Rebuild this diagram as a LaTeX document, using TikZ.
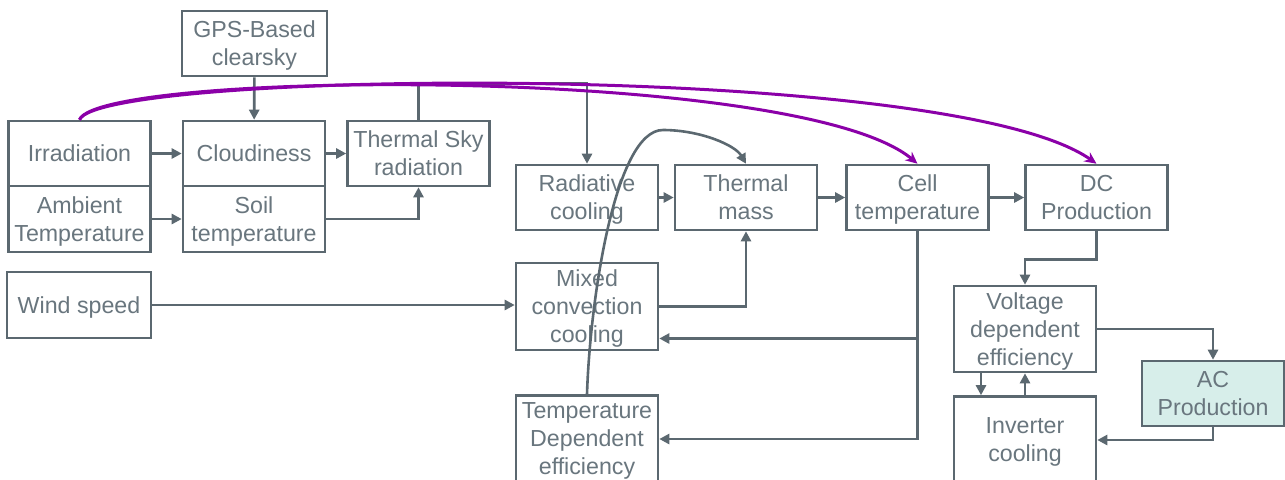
\documentclass[tikz,border=0pt]{standalone}
\usepackage{fontspec}
\setmainfont{Liberation Sans}
\usetikzlibrary{arrows.meta}
\definecolor{slate}{HTML}{5B6870}
\definecolor{ink}{HTML}{69767E}
\definecolor{violet}{HTML}{8B00A8}
\definecolor{mint}{HTML}{D7EEEA}
\begin{document}
\begin{tikzpicture}[x=0.5pt,y=-0.5pt,
  box/.style={draw=slate,line width=1.3pt,text=ink,align=center,inner sep=0pt,
    text depth=0pt,minimum width=71pt,minimum height=32.5pt,
    font=\fontsize{11.6}{14}\selectfont},
  tall/.style={box,minimum height=43.5pt},
  line/.style={draw=slate,line width=1.3pt,-{Triangle[length=5pt,width=5pt]}},
  link/.style={draw=violet,line width=1.5pt,-{Stealth[length=6pt,width=5.5pt]}}]
\clip (0,0) rectangle (1285,479);
\fill[white] (0,0) rectangle (1285,479);
% inputs
\node[box,minimum width=72.5pt] (gps) at (254.5,43.5) {GPS-Based\\clearsky};
\node[box] (irr) at (79.5,153.5) {Irradiation};
\node[box,minimum height=33pt] (amb) at (79.5,219) {Ambient\\Temperature};
\node[box] (cloud) at (254,153.5) {Cloudiness};
\node[box,minimum height=33pt] (soil) at (254,219) {Soil\\temperature};
\node[box] (sky) at (418.5,153.5) {Thermal Sky\\radiation};
\node[box,minimum width=72pt,minimum height=33pt] (wind) at (79,305) {Wind speed};
% middle row
\node[box] (rad) at (587,197.5) {Radiative\\cooling};
\node[box] (tmass) at (746,197.5) {Thermal\\mass};
\node[box] (cell) at (917.5,197.5) {Cell\\temperature};
\node[box] (dc) at (1096.5,197.5) {DC\\Production};
\node[tall] (mixed) at (587,306.5) {Mixed\\convection\\cooling};
\node[tall] (tdep) at (587,439) {Temperature\\Dependent\\efficiency};
% output side
\node[tall,minimum height=43pt] (volt) at (1025,329) {Voltage\\dependent\\efficiency};
\node[box,fill=mint] (ac) at (1213,393.5) {AC\\Production};
\node[tall] (inv) at (1025,440) {Inverter\\cooling};
\coordinate (mxin) at ([yshift=-16pt]mixed.east);
\coordinate (vdown) at ([xshift=-22pt]volt.south);
% connectors
\draw[line] (irr) -- (cloud);
\draw[line] (cloud) -- (sky);
\draw[line] (amb) -- (soil);
\draw[line] (soil.east) -| (sky.south);
\draw[line] (gps) -- (cloud);
\draw[line] (sky.north) -- ++(0,-36) -| (rad.north);
\draw[line] (rad) -- (tmass);
\draw[line] (tmass) -- (cell);
\draw[line] (cell) -- (dc);
\draw[line] (dc.south) -- ++(0,28) -| (volt.north);
\draw[line] (volt.east) -| (ac.north);
\draw[line] (ac.south) |- (inv.east);
\draw[line] (inv.north) -- (volt.south);
\draw[line] (vdown) -- (vdown |- inv.north);
\draw[line] (wind.east) -- (wind.east -| mixed.west);
\draw[line] (mixed.east) -| (tmass.south);
\draw[line] (cell.south) |- (mxin);
\draw[line] (cell.south) |- (tdep.east);
\draw[line] (tdep.north) .. controls (590,300) and (615,130) .. (663,130)
  .. controls (700,130) and (735,145) .. (tmass.north);
% irradiation feeds
\draw[link] (irr.north) .. controls (100,70) and (800,65) .. (cell.north);
\draw[link] (irr.north) .. controls (100,70) and (950,60) .. (dc.north);
\end{tikzpicture}
\end{document}
